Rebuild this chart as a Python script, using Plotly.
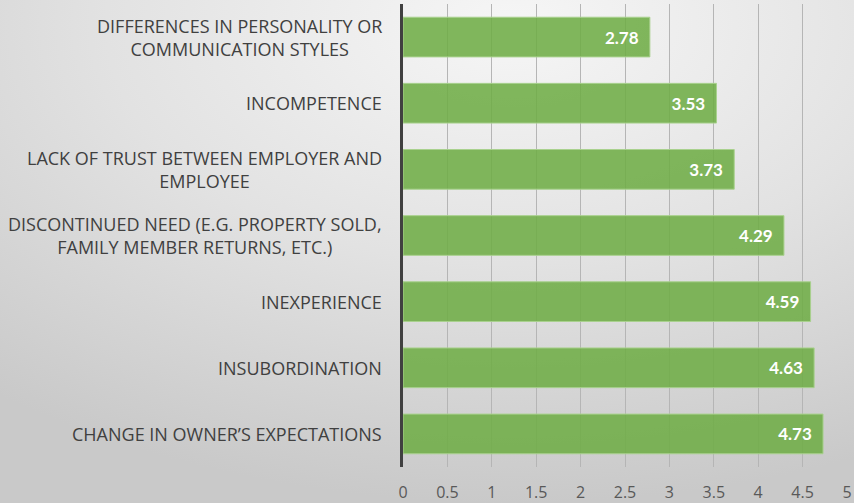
import plotly.graph_objects as go
import base64

categories = [
    "DIFFERENCES IN PERSONALITY OR<br>COMMUNICATION STYLES",
    "INCOMPETENCE",
    "LACK OF TRUST BETWEEN EMPLOYER AND<br>EMPLOYEE",
    "DISCONTINUED NEED (E.G. PROPERTY SOLD,<br>FAMILY MEMBER RETURNS, ETC.)",
    "INEXPERIENCE",
    "INSUBORDINATION",
    "CHANGE IN OWNER\u2019S EXPECTATIONS",
]
values = [2.78, 3.53, 3.73, 4.29, 4.59, 4.63, 4.73]
x_ticks = [0, 0.5, 1, 1.5, 2, 2.5, 3, 3.5, 4, 4.5, 5]
x_tick_labels = ["0", "0.5", "1", "1.5", "2", "2.5", "3", "3.5", "4", "4.5", "5"]

positions = list(range(len(categories)))

L, R, T, B = 403, 7, 4, 36
W, H = 854, 503
pw, ph = W - L - R, H - T - B

svg = (
    '<svg xmlns="http://www.w3.org/2000/svg" width="854" height="503">'
    '<defs><radialGradient id="g" cx="0.6" cy="0.05" r="0.95">'
    '<stop offset="0" stop-color="#f6f6f6"/>'
    '<stop offset="0.5" stop-color="#e2e2e2"/>'
    '<stop offset="1" stop-color="#c9c9c9"/>'
    '</radialGradient></defs>'
    '<rect width="854" height="503" fill="url(#g)"/></svg>'
)
bg_src = "data:image/svg+xml;base64," + base64.b64encode(svg.encode()).decode()

fig = go.Figure()
fig.add_trace(go.Bar(
    x=values,
    y=positions,
    orientation="h",
    width=0.6,
    marker=dict(color="rgba(112,173,71,0.88)", line=dict(color="#a9d18e", width=1)),
    text=[f"{v:.2f}\u00a0\u00a0" for v in values],
    textposition="inside",
    insidetextanchor="end",
    textfont=dict(family="Lato", size=17, color="white", weight="bold"),
    hoverinfo="skip",
))

for p, c in zip(positions, categories):
    fig.add_annotation(
        x=0, xref="paper", xshift=-19, xanchor="right",
        y=p, yref="y", yanchor="middle",
        text=c, showarrow=False, align="center",
        font=dict(family="Open Sans", size=18, color="#404040"),
    )

fig.update_layout(
    width=W, height=H,
    margin=dict(l=L, r=R, t=T, b=B),
    paper_bgcolor="#dcdcdc",
    plot_bgcolor="rgba(0,0,0,0)",
    showlegend=False,
    images=[dict(source=bg_src, xref="paper", yref="paper", x=-L/pw, y=1+T/ph,
                 sizex=W/pw, sizey=H/ph, xanchor="left", yanchor="top",
                 sizing="stretch", layer="below")],
    xaxis=dict(
        range=[0, 5], tickvals=x_ticks, ticktext=x_tick_labels,
        showgrid=True, gridcolor="#b5b5b5", gridwidth=1,
        zeroline=False, showline=False, automargin=False,
        tickfont=dict(family="Open Sans", size=16, color="#595959"),
        ticks="", ticklen=0, ticklabelstandoff=14, ticklabeloverflow="allow",
    ),
    yaxis=dict(
        range=[6.5, -0.5], showticklabels=False, showgrid=False,
        zeroline=False, showline=True, linecolor="#404040", linewidth=3,
        ticks="",
    ),
)

fig.write_html(
    "out.html",
    config={"displayModeBar": False},
    post_script="document.body.style.margin='0';document.body.style.overflow='hidden';",
)
